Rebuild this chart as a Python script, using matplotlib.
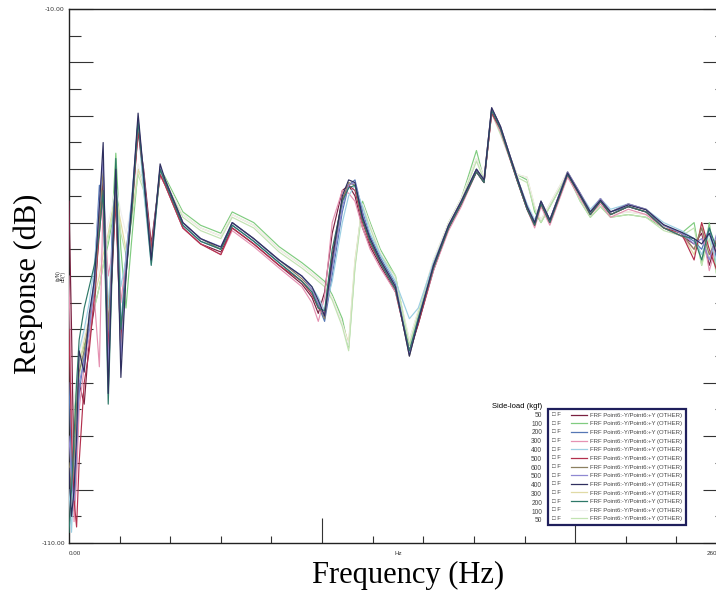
import numpy as np
import matplotlib
matplotlib.use("Agg")
import matplotlib.pyplot as plt
from matplotlib.lines import Line2D
from matplotlib.text import Text
from matplotlib.legend_handler import HandlerBase
from matplotlib.ticker import MultipleLocator, FuncFormatter

# frequency grid (Hz) shared by all FRF traces
freq = [0, 1, 2, 3, 4, 6, 8, 10, 12, 13.5, 15.5, 17, 18.5, 20.5, 22.5, 25, 27.3, 29.5, 32.5, 36, 38,
        45, 52, 60, 64.5, 73, 83, 92, 96, 98.5, 101, 104, 108, 110.5, 113, 116, 119, 123, 129, 134.5, 138, 144, 150,
        155, 161, 164, 167, 170.5, 177, 181, 184, 186.5, 190, 197, 202, 206, 210, 214, 221, 228, 235, 242, 247, 250, 253, 256, 260]

# side-load (kgf), legend order
loads = [50, 100, 200, 300, 400, 500, 600, 500, 400, 300, 200, 100, 50]
colors = ["#7a2040", "#80cc80", "#5577b5", "#e592b2", "#9ccfe3", "#b3304d", "#8c8060",
          "#8f88d2", "#2f2f5f", "#e0daa5", "#2e7868", "#f0f0f0", "#c2e3b2"]

# response in dB, one list per run
resp_50_up = [-46, -70, -98, -92, -80, -84, -72, -66, -50, -42, -70, -60, -45, -72, -58, -46, -33, -40, -54, -41, -43,
              -51, -54, -55.5, -51, -54, -58, -61.5, -64, -67, -63, -52, -44, -43, -45, -51, -54.5, -58, -63, -74, -69, -59, -51,
              -46.5, -40.5, -42.5, -29.5, -32.5, -42, -47.5, -50.5, -46.5, -50, -41, -45, -48.5, -46, -48.5, -47, -48, -51, -52.5, -54, -52, -58, -53, -56]
resp_100_up = [-100, -92, -85, -80, -76, -73, -70, -66, -62, -58, -54, -50, -37, -55, -66, -52, -40, -42, -55, -40, -41.5,
               -48, -50.5, -52, -48, -50, -54.5, -57.5, -59, -60, -61, -63.5, -68, -73.5, -58, -46, -50, -55, -60, -73, -67, -57.5, -50,
               -45.5, -36.5, -42, -29, -33, -41, -42, -48, -50, -47, -41, -46, -49, -47, -49, -48.5, -49, -51, -52, -50, -58, -50, -60, -54]
resp_200_up = [-80, -96, -104, -95, -82, -75, -70, -60, -43, -48, -75, -52, -42, -70, -56, -45, -31, -43, -56, -40, -42.5,
               -50.5, -53.5, -55, -50.5, -53.5, -57.5, -61, -63, -65.5, -68.5, -60, -48, -43, -42, -48, -52.5, -56.5, -61.5, -74.5, -68, -58.5, -51,
               -46, -40.5, -42.5, -29, -32.5, -41.5, -47, -50, -46, -49.5, -41, -45, -48, -46, -48, -47, -48, -50.5, -52, -53.5, -55, -51, -57, -55.5]
resp_300_up = [-60, -85, -106, -98, -85, -77, -72, -64, -77, -45, -60, -56, -44, -65, -57, -46, -32, -42, -55, -41, -43,
               -51, -54, -56, -51.5, -54.5, -58.5, -62, -65, -68.5, -64, -50, -44, -44.5, -46, -51, -55, -58.5, -63, -74, -68.5, -59, -51.5,
               -47, -40.5, -42, -29.5, -33, -42, -47.5, -51, -47, -50.5, -41.5, -45.5, -48.5, -46.5, -49, -47.5, -48.5, -51, -52.5, -55, -51, -59, -54, -57]
resp_400_up = [-100, -108, -96, -86, -74, -70, -65, -58, -46, -40, -66, -55, -42, -62, -57, -44, -32, -44, -58, -40, -42,
               -50, -53, -55, -50, -53, -57, -60, -62, -64, -66.5, -61, -50, -45, -43, -47, -52, -56, -61, -68, -66, -57.5, -50.5,
               -46, -40, -42, -29, -32.5, -41.5, -46.5, -49.5, -46, -49.5, -40.5, -44.5, -47.5, -45.5, -47.5, -46.5, -47.5, -50, -51.5, -53, -56, -52, -58, -54]
resp_500_up = [-70, -90, -102, -107, -95, -80, -74, -64, -52, -44, -74, -58, -46, -74, -59, -47, -33, -41, -55, -41, -43,
               -51, -54, -56, -51, -54, -58, -61, -63.5, -66, -67, -56, -45.5, -43, -44, -50, -54, -57.5, -62.5, -74.5, -69, -58.5, -51,
               -46.5, -40.5, -42.5, -29.5, -32.5, -42, -47.5, -50.5, -46.5, -50, -41, -45, -48.5, -46, -48.5, -47, -48, -51, -52, -57, -50, -55, -59, -55]
resp_600 = [-95, -100, -94, -84, -78, -74, -68, -63, -50, -40, -70, -57, -44, -75, -60, -46, -31, -41, -56, -40, -42,
            -50, -53, -55, -50, -53, -57, -60.5, -62.5, -65, -68, -58, -46, -42.5, -43, -49.5, -53.5, -57, -62, -75, -68.5, -58, -50.5,
            -46, -40, -42, -28.5, -32, -41.5, -47, -50, -46, -49.5, -40.5, -44.5, -48, -45.5, -48, -46.5, -47.5, -50.5, -52, -55, -51, -56, -53, -57]
resp_500_dn = [-90, -98, -102, -92, -80, -76, -70, -62, -46, -38, -78, -56, -41, -76, -58, -45, -30.5, -41, -57, -39.5, -42,
               -50, -53, -54.5, -50, -53, -57, -60, -62.5, -65, -67.5, -58.5, -47, -43, -42.5, -48.5, -53, -57, -62, -74.5, -68, -58, -50.5,
               -46, -40, -42, -28.5, -32, -41.5, -47, -50, -46, -49.5, -40.5, -44.5, -48, -45.5, -48, -46.5, -47.5, -50.5, -52, -54, -53, -57, -52, -56]
resp_400_dn = [-96, -105, -100, -90, -74, -78, -67, -61, -47, -35, -82, -58, -40, -79, -60, -45, -29.5, -41, -57, -39, -42,
               -50, -53, -54.6, -50, -53, -57, -60, -62, -64.5, -67.5, -57, -45, -42, -42.5, -49, -53, -57, -62, -75, -68.5, -58, -50.5,
               -46, -40, -42, -28.5, -32, -41.5, -47, -50, -46, -49.5, -40.7, -44.8, -48, -45.8, -48, -46.7, -47.6, -50.4, -51.8, -53, -54, -52, -56, -55]
resp_300_dn = [-102, -95, -88, -82, -77, -72, -68, -64, -60, -56, -52, -48, -45, -50, -55, -48, -40, -43, -56, -40, -42,
               -48.5, -51, -52.5, -48.5, -50.5, -55, -58, -59.5, -60.5, -61.5, -64, -69, -72.5, -57, -46.5, -50.5, -55.5, -60.5, -72, -66.5, -57, -50,
               -45.5, -38, -41.5, -29, -33, -41, -41.5, -47, -49.5, -46.5, -40.5, -45.5, -48.5, -46.5, -48.5, -48, -48.5, -51, -52, -56, -50, -57, -53, -58]
resp_200_dn = [-108, -100, -90, -80, -72, -66, -62, -58, -52, -44, -84, -60, -38, -70, -60, -47, -31, -42, -58, -40, -42.5,
               -50.5, -53.5, -55, -50.5, -53.5, -57.5, -61, -63, -66, -66.5, -55, -46, -43.5, -43, -49.5, -53.5, -57.5, -62.5, -74, -68, -58.5, -51,
               -46.5, -40.5, -42.5, -29, -32.5, -42, -47.5, -50.5, -46.5, -50, -41, -45, -48.5, -46, -48.5, -47, -48, -51, -52.5, -53, -57, -51, -55, -58]
resp_100_dn = [-98, -90, -84, -79, -75, -71, -67, -63, -58, -54, -50, -47, -43, -48, -52, -46, -39, -43, -55, -40, -42,
               -48.5, -51, -52.5, -48.5, -50.5, -55, -58, -59.5, -60.5, -61.5, -64, -69, -73, -57.5, -46.5, -50.5, -55.5, -60.5, -72, -66.5, -57, -50,
               -45.5, -38, -41.5, -29, -33, -41, -41.5, -47, -49.5, -46.5, -40.5, -45.5, -48.5, -46.5, -48.5, -48, -48.5, -51, -52, -54, -52, -56, -52, -57]
resp_50_dn = [-104, -96, -90, -84, -79, -74, -70, -66, -62, -58, -53, -49, -44, -52, -56, -49, -41, -44, -57, -41, -42.5,
              -49, -51.5, -53, -49, -51, -55.5, -58.5, -60, -61, -62, -64.5, -69.5, -74, -58.5, -47, -51, -56, -60, -73, -67, -57.5, -50.5,
              -46, -38.5, -42, -29.5, -33.5, -41.5, -42.5, -47.5, -50, -47, -41, -46, -49, -47, -49, -48.5, -49, -51.5, -52.5, -51, -58, -53, -60, -55]

responses = [resp_50_up, resp_100_up, resp_200_up, resp_300_up, resp_400_up, resp_500_up, resp_600,
             resp_500_dn, resp_400_dn, resp_300_dn, resp_200_dn, resp_100_dn, resp_50_dn]
light_runs = [1, 9, 11, 12]

frf_label = "FRF Point6:-Y/Point6:+Y (OTHER)"


class CheckLineHandler(HandlerBase):
    """legend entry drawn as '[] F  ----' like the analyser software"""
    def create_artists(self, legend, orig_handle, xdescent, ydescent, width, height, fontsize, trans):
        y0 = height / 2.0 - ydescent
        x0 = -xdescent
        box = Text(x0, y0, "\u25a1 F", fontsize=fontsize, ha="left", va="center",
                   family=["Liberation Sans", "DejaVu Sans"], color="#444444", transform=trans)
        line = Line2D([x0 + 0.55 * width, x0 + width], [y0, y0], color=orig_handle.get_color(),
                      lw=0.9, transform=trans)
        return [box, line]


fig = plt.figure(figsize=(7.16, 5.91), dpi=100)
ax = fig.add_axes([69 / 716, 48 / 591, 658 / 716, 534 / 591])

handles = []
for i, (resp, col) in enumerate(zip(responses, colors)):
    z = 2 if i in light_runs else 3
    if i == 8:
        z = 4
    h, = ax.plot(freq, resp, color=col, lw=0.85, zorder=z)
    handles.append(h)

ax.set_xlim(0, 260)
ax.set_ylim(-110, -10)

# y ticks: inward both sides, only end labels
ax.yaxis.set_major_locator(MultipleLocator(10))
ax.yaxis.set_minor_locator(MultipleLocator(5))
ax.yaxis.set_major_formatter(FuncFormatter(lambda v, p: f"{v:.2f}" if v in (-10, -110) else ""))
ax.tick_params(axis="y", which="major", direction="in", length=17, width=0.8, left=True, right=True,
               labelsize=4.5, colors="#333333", pad=3)
ax.tick_params(axis="y", which="minor", direction="in", length=8.5, width=0.8, left=True, right=True,
               colors="#333333")

# x ticks: long at 100/200, short every 20 Hz
ax.set_xticks([100, 200])
ax.set_xticks(np.arange(20, 260, 20), minor=True)
ax.tick_params(axis="x", which="major", direction="in", length=18, width=0.8, labelbottom=False,
               colors="#333333")
ax.tick_params(axis="x", which="minor", direction="in", length=5, width=0.8, colors="#333333")

for s in ax.spines.values():
    s.set_color("#222222")
    s.set_linewidth(1.0)

small = dict(fontsize=4.5, family="Liberation Sans", color="#333333")
ax.text(0, -111.5, "0.00", ha="left", va="top", clip_on=False, **small)
ax.text(130, -111.5, "Hz", ha="center", va="top", clip_on=False, **small)
ax.text(0.985, -0.015, "260", transform=ax.transAxes, ha="right", va="top", clip_on=False, **small)
ax.text(-0.012, 0.5, "(g/N)\ndB(*)", transform=ax.transAxes, rotation=90, ha="center", va="center",
        fontsize=3.5, family="Liberation Sans", color="#333333", linespacing=1.0)

fig.text(0.039, 0.52, "Response (dB)", rotation=90, ha="center", va="center",
         fontsize=22, family="Liberation Serif")
fig.text(0.57, 0.027, "Frequency (Hz)", ha="center", va="center",
         fontsize=22, family="Liberation Serif")

leg = ax.legend(handles=handles, labels=[frf_label] * len(handles),
                handler_map={Line2D: CheckLineHandler()},
                loc="upper left", bbox_to_anchor=(0.728, 0.251), borderaxespad=0,
                prop={"family": "Liberation Sans", "size": 4.3},
                handlelength=6, handletextpad=0.5, labelspacing=0.58, borderpad=0.6,
                fancybox=False, framealpha=1, edgecolor="#1f1f5c")
leg.get_frame().set_linewidth(1.6)
for t in leg.get_texts():
    t.set_color("#444444")
ax.add_artist(leg)

blank = [Line2D([], [], color="none") for _ in loads]
num_leg = ax.legend(handles=blank, labels=[str(v) for v in loads],
                    loc="upper right", bbox_to_anchor=(0.719, 0.262), borderaxespad=0, borderpad=0,
                    markerfirst=False, handlelength=0, handletextpad=0, frameon=False,
                    prop={"family": "Liberation Sans", "size": 4.8}, labelspacing=0.27,
                    title="Side-load (kgf)", title_fontproperties={"family": "Liberation Sans", "size": 5.5},
                    alignment="right")
for t in num_leg.get_texts():
    t.set_color("#444444")

fig.savefig("out.png", dpi=100)
